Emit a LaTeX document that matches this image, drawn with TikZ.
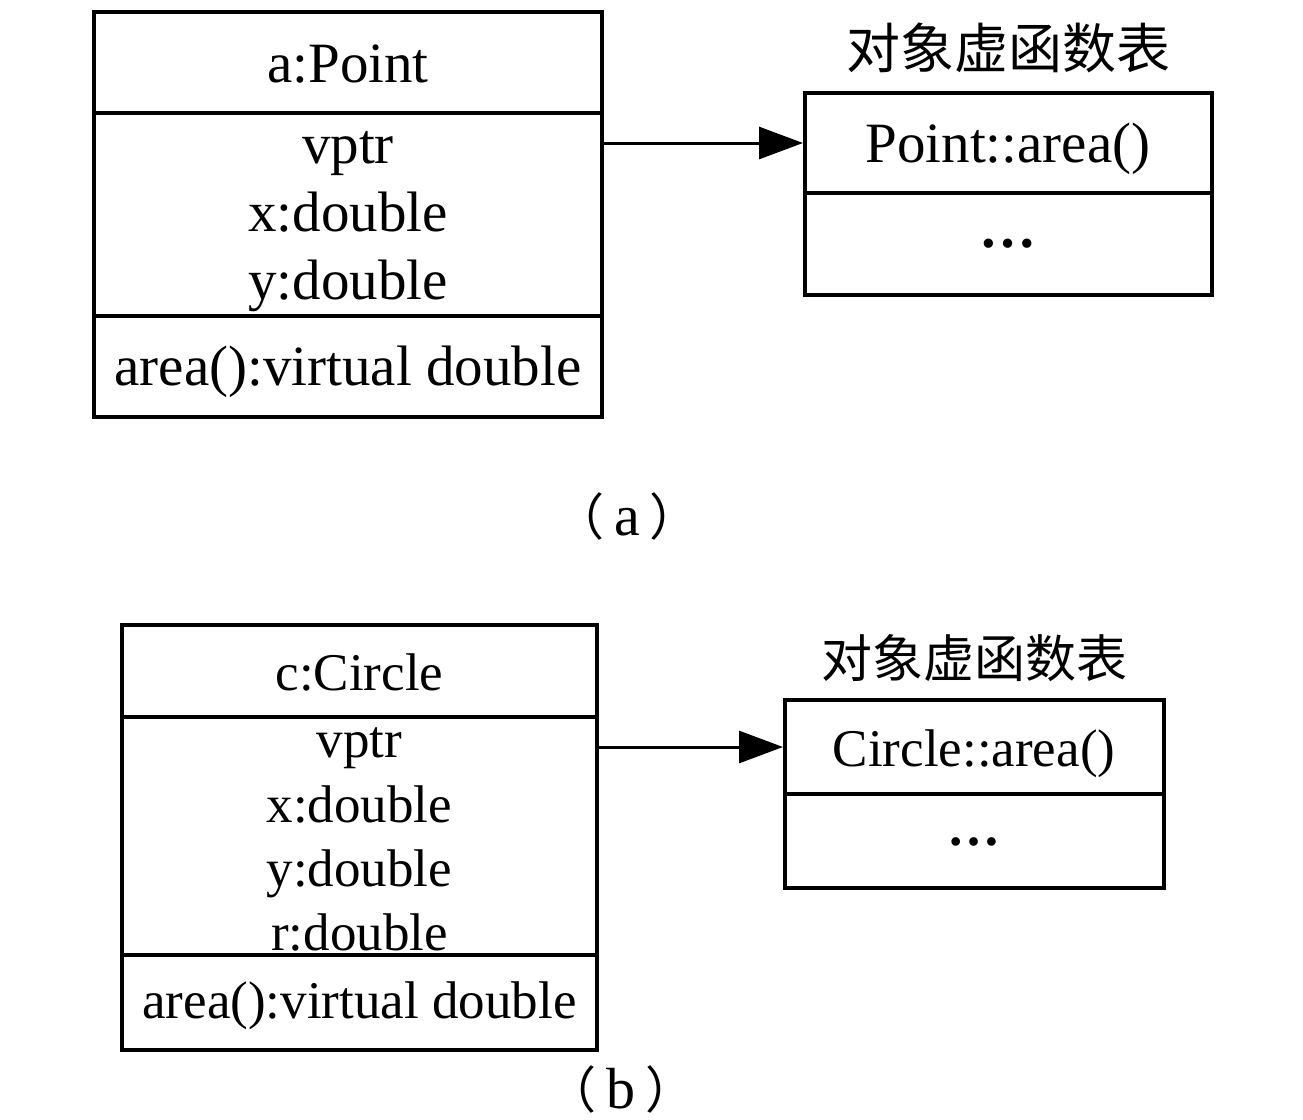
\documentclass[tikz,border=0pt]{standalone}
\usepackage{fontspec}
\setmainfont{Liberation Serif}
\newfontfamily\cjk{Noto Sans CJK SC}
\usetikzlibrary{arrows.meta}
\newcommand{\lparen}{{\cjk\fontsize{25}{27}\selectfont （}}
\newcommand{\rparen}{{\cjk\fontsize{25}{27}\selectfont ）}}
\begin{document}
\begin{tikzpicture}[x=0.5pt,y=-0.5pt,
  cell/.style={draw, line width=2pt, inner sep=0pt, minimum width=#1},
  txta/.style={anchor=base, inner sep=0pt, font=\fontsize{28.5}{30}\selectfont},
  txtb/.style={anchor=base, inner sep=0pt, font=\fontsize{26.5}{28}\selectfont},
  ttla/.style={inner sep=0pt, font=\cjk\fontsize{27}{30}\selectfont},
  ttlb/.style={inner sep=0pt, font=\cjk\fontsize{25.5}{28}\selectfont},
  lbl/.style={inner sep=0pt, font=\fontsize{29}{30}\selectfont},
  ptr/.style={line width=1.5pt, -{Triangle[length=22pt,width=16pt]}}]
\useasboundingbox (0,0) rectangle (1303,1120);
% ---------- (a) ----------
\node[cell=254pt, minimum height=50.5pt] (ah) at (348,62.5) {};
\node[cell=254pt, minimum height=101.5pt] (aa) at (348,214.5) {};
\node[cell=254pt, minimum height=50.5pt] (am) at (348,366.5) {};
\node[txta] (ahT) at (348,82) {a:Point};
\node[txta] (aa1) at (348,163) {vptr};
\node[txta] (aa2) at (348,231) {x:double};
\node[txta] (aa3) at (348,299) {y:double};
\node[txta] (amT) at (348,385) {area():virtual double};

\node[ttla] (atT) at (1008,48) {对象虚函数表};
\node[cell=203.5pt, minimum height=50pt] (at1) at (1008.5,143) {};
\node[cell=203.5pt, minimum height=51pt] (at2) at (1008.5,244) {};
\node[txta] (at1T) at (1008,162) {Point::area()};
\node[txta] (at2T) at (1008,247) {\bfseries …};
\draw[ptr] (at1.west -| aa.east) -- (at1.west);

\node[lbl] (la) at (627,516) {\lparen\kern5pt a\kern5pt\rparen};

% ---------- (b) ----------
\node[cell=237.5pt, minimum height=46pt] (bh) at (359.5,671) {};
\node[cell=237.5pt, minimum height=119pt] (ba) at (359.5,836) {};
\node[cell=237.5pt, minimum height=47.5pt] (bm) at (359.5,1002.5) {};
\node[txtb] (bhT) at (359.5,690) {c:Circle};
\node[txtb] (ba1) at (359.5,757) {vptr};
\node[txtb] (ba2) at (359.5,822) {x:double};
\node[txtb] (ba3) at (359.5,886) {y:double};
\node[txtb] (ba4) at (359.5,950) {r:double};
\node[txtb] (bmT) at (359.5,1018) {area():virtual double};

\node[ttlb] (btT) at (974,658) {对象虚函数表};
\node[cell=189.5pt, minimum height=47pt] (bt1) at (974.5,747) {};
\node[cell=189.5pt, minimum height=47pt] (bt2) at (974.5,841) {};
\node[txtb] (bt1T) at (974,766) {Circle::area()};
\node[txtb] (bt2T) at (974,845) {\bfseries …};
\draw[ptr] (bt1.west -| ba.east) -- (bt1.west);

\node[lbl] (lb) at (621,1089) {\lparen\kern5pt b\kern5pt\rparen};
\end{tikzpicture}
\end{document}
